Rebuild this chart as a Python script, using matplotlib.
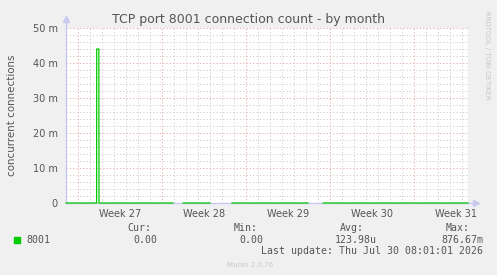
import numpy as np
import matplotlib
matplotlib.use("Agg")
import matplotlib.pyplot as plt
from matplotlib.ticker import FixedLocator

# data: days since graph start, connection count in milli-units (m)
days = [0.0, 2.55, 2.56, 2.74, 2.75, 8.92, 8.92, 9.75, 9.75, 12.0, 12.0, 13.83, 13.83,
        20.17, 20.17, 21.42, 21.42, 33.5]
conns = [0, 0, 44, 44, 0, 0, np.nan, np.nan, 0, 0, np.nan, np.nan, 0,
         0, np.nan, np.nan, 0, 0]

week_pos = [4.5, 11.5, 18.5, 25.5, 32.5]
week_labels = ["Week 27", "Week 28", "Week 29", "Week 30", "Week 31"]
week_lines = [1, 8, 15, 22, 29]
y_ticks = [0, 10, 20, 30, 40, 50]
y_labels = ["0", "10 m", "20 m", "30 m", "40 m", "50 m"]

legend_name = "8001"
stats_head = ["Cur:", "Min:", "Avg:", "Max:"]
stats_vals = ["0.00", "0.00", "123.98u", "876.67m"]
last_update = "Last update: Thu Jul 30 08:01:01 2026"

W, H = 497, 275
bg = "#f0f0f0"
txt = "#555555"
fig = plt.figure(figsize=(W / 100, H / 100), dpi=100, facecolor=bg)
ax = fig.add_axes([66 / W, (H - 203) / H, 402 / W, 175 / H])
ax.set_facecolor("white")
ax.set_xlim(0, 33.5)
ax.set_ylim(0, 50)

# grid
for d in np.arange(0, 34):
    if d in week_lines:
        continue
    ax.axvline(d, color="#c8c8c8", lw=0.6, ls=(0, (1.5, 2.5)), zorder=1)
for y in np.arange(2, 50, 2):
    if y % 10 == 0:
        continue
    ax.axhline(y, color="#c8c8c8", lw=0.6, ls=(0, (1.5, 2.5)), zorder=1)
for d in week_lines:
    ax.axvline(d, color="#e6a0a0", lw=0.6, ls=(0, (1.5, 2.5)), zorder=2)
for y in y_ticks[1:]:
    ax.axhline(y, color="#e6a0a0", lw=0.6, ls=(0, (1.5, 2.5)), zorder=2)

for s in ["top", "right"]:
    ax.spines[s].set_visible(False)
for s in ["left", "bottom"]:
    ax.spines[s].set_color("#c8c8f0")
    ax.spines[s].set_linewidth(1)
ax.plot(days, conns, color="#00cc00", lw=0.9, zorder=5, clip_on=False)

# axis arrows
ax.plot([0, 0], [50, 52.5], color="#c8c8f0", lw=1, clip_on=False)
ax.plot([0], [52.5], marker="^", ms=4, color="#c8c8f0", clip_on=False)
ax.plot([33.5, 34.2], [0, 0], color="#c8c8f0", lw=1, clip_on=False)
ax.plot([34.2], [0], marker=">", ms=4, color="#c8c8f0", clip_on=False)

ax.xaxis.set_major_locator(FixedLocator(week_pos))
ax.set_xticklabels(week_labels)
ax.yaxis.set_major_locator(FixedLocator(y_ticks))
ax.set_yticklabels(y_labels)
ax.tick_params(axis="both", length=0, labelsize=7, colors=txt, pad=4)
ax.tick_params(axis="y", pad=6)
ax.set_ylabel("concurrent connections", fontsize=7.4, color=txt, labelpad=11)

fig.text(248 / W, 1 - 19 / H, "TCP port 8001 connection count - by month",
         ha="center", va="center", fontsize=9, color=txt)
fig.text(487 / W, 1 - 55 / H, "RRDTOOL / TOBI OETIKER", rotation=270,
         ha="center", va="center", fontsize=5, color="#c8c8c8")

mono = "DejaVu Sans Mono"
fig.patches.append(plt.Rectangle((14 / W, 1 - 243 / H), 6 / W, 6 / H,
                                 transform=fig.transFigure, color="#00cc00"))
fig.text(26 / W, 1 - 240 / H, legend_name, ha="left", va="center",
         fontsize=7.1, family=mono, color=txt)
head_x = [151, 258, 364, 470]
val_x = [157, 263, 377, 483]
for hx, vx, h, v in zip(head_x, val_x, stats_head, stats_vals):
    fig.text(hx / W, 1 - 228 / H, h, ha="right", va="center",
             fontsize=7.1, family=mono, color=txt)
    fig.text(vx / W, 1 - 240 / H, v, ha="right", va="center",
             fontsize=7.1, family=mono, color=txt)
fig.text(483 / W, 1 - 251 / H, last_update, ha="right", va="center",
         fontsize=7.1, family=mono, color=txt)
fig.text(250 / W, 1 - 265 / H, "Munin 2.0.76", ha="center", va="center",
         fontsize=5, color="#c8c8c8")

fig.savefig("out.png", dpi=100, facecolor=bg)
